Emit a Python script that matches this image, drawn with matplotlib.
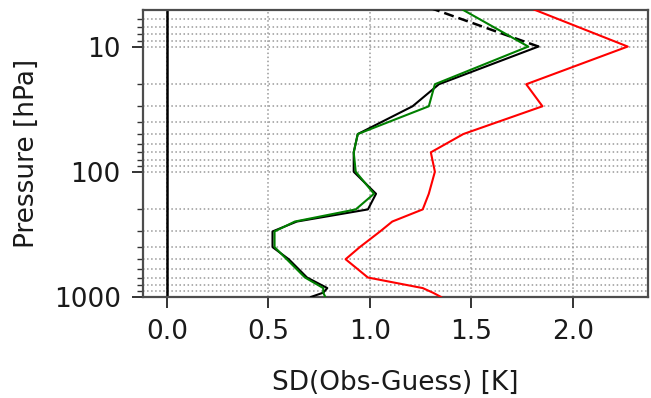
import matplotlib
matplotlib.use("Agg")
import matplotlib.pyplot as plt
from matplotlib.ticker import FixedLocator, FixedFormatter, LogLocator, NullFormatter

# pressure levels [hPa]
lev = [1000, 925, 850, 700, 500, 400, 300, 250, 200, 150, 100, 70, 50, 30, 20, 10]
lev_top = [10, 5]

# SD(Obs-Guess) [K]
sd_black = [0.71, 0.77, 0.79, 0.69, 0.60, 0.52, 0.52, 0.64, 0.99, 1.03, 0.92, 0.92, 0.94, 1.21, 1.34, 1.83]
sd_black_top = [1.83, 1.31]
sd_green = [0.78, 0.77, 0.77, 0.68, 0.59, 0.53, 0.53, 0.63, 0.93, 1.02, 0.93, 0.92, 0.94, 1.29, 1.32, 1.78, 1.45]
sd_red = [1.35, 1.31, 1.26, 0.99, 0.88, 0.95, 1.05, 1.11, 1.26, 1.29, 1.32, 1.30, 1.46, 1.85, 1.77, 2.27, 1.80]
lev_full = lev + [5]

fs = 19
fig = plt.figure(figsize=(6.51, 3.98), dpi=100)
ax = fig.add_axes([0.2197, 0.254, 0.7757, 0.721])

ax.axvline(0, color="k", lw=1.8, zorder=2)
ax.plot(sd_red, lev_full, color="r", lw=1.5, zorder=3)
ax.plot(sd_black, lev, color="k", lw=1.5, zorder=3)
ax.plot(sd_black_top, lev_top, color="k", lw=1.8, ls="--", dashes=(4, 2), zorder=3)
ax.plot(sd_green, lev_full, color="g", lw=1.5, zorder=4)

ax.set_yscale("log")
ax.set_ylim(1000, 5.1)
ax.set_xlim(-0.118, 2.37)
ax.yaxis.set_major_locator(FixedLocator([10, 100, 1000]))
ax.yaxis.set_major_formatter(FixedFormatter(["10", "100", "1000"]))
ax.yaxis.set_minor_locator(LogLocator(base=10, subs=range(2, 10)))
ax.yaxis.set_minor_formatter(NullFormatter())
ax.set_xticks([0.0, 0.5, 1.0, 1.5, 2.0])
ax.set_xticklabels(["0.0", "0.5", "1.0", "1.5", "2.0"])

ax.grid(True, which="major", axis="x", color="0.6", ls=":", lw=1.1)
ax.grid(True, which="both", axis="y", color="0.6", ls=":", lw=1.1)

ax.tick_params(axis="both", which="major", labelsize=fs, length=8, width=1.4, pad=8,
               color="0.2", labelcolor="0.1")
ax.tick_params(axis="y", which="minor", length=4, width=1.0, color="0.2")
for sp in ax.spines.values():
    sp.set_color("0.3")
    sp.set_linewidth(1.6)

ax.set_xlabel("SD(Obs-Guess) [K]", fontsize=fs, labelpad=18, color="0.1")
ax.set_ylabel("Pressure [hPa]", fontsize=fs, labelpad=10, color="0.1")

fig.savefig("out.png", dpi=100)
